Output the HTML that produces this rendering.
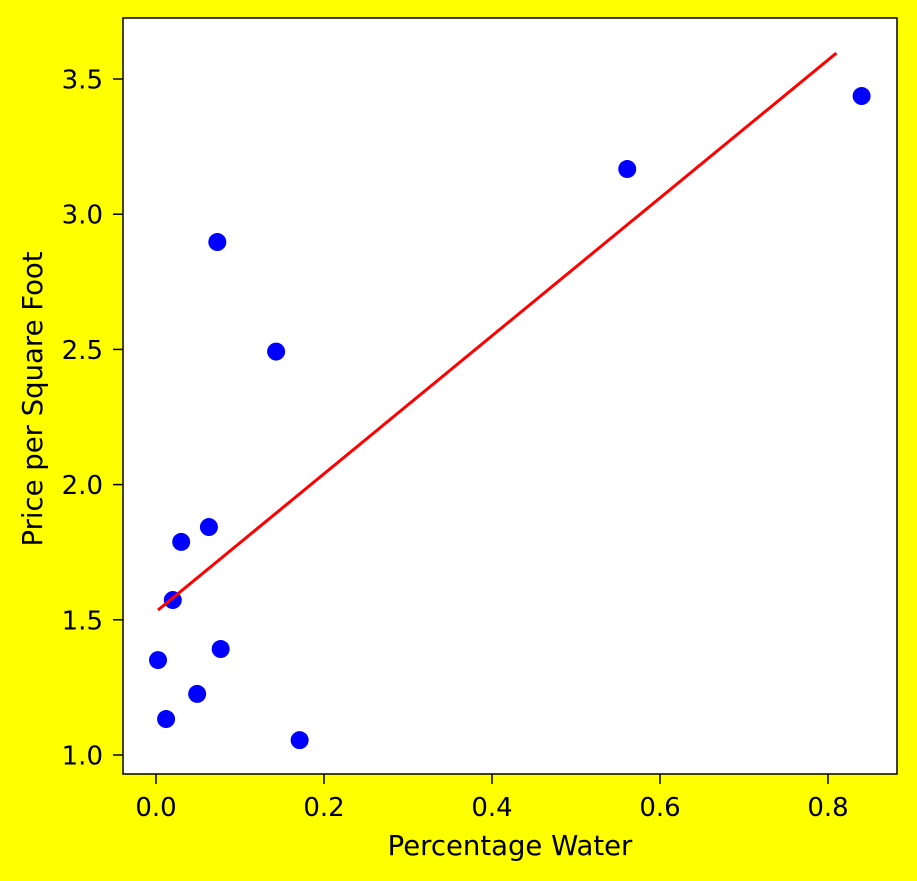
<!DOCTYPE html>
<html><head><meta charset="utf-8"><style>
html,body{margin:0;padding:0;background:#ffff00;}
svg{display:block;font-family:"DejaVu Sans","Liberation Sans",sans-serif;}
</style></head><body>
<svg id="chart" width="917" height="881">
<rect x="0" y="0" width="917" height="881" fill="#ffff00"/>
<rect x="123" y="18" width="774" height="756" fill="#ffffff" stroke="#000" stroke-width="1.5"/>
<g id="xt"></g><g id="yt"></g><g id="marks"></g>
<text x="510" y="855" font-size="27.5" text-anchor="middle">Percentage Water</text>
<text x="0" y="0" font-size="27.5" text-anchor="middle" transform="translate(42,399) rotate(-90)">Price per Square Foot</text>
</svg>
<script>
const xVals=[0.0024,0.012,0.020,0.030,0.049,0.063,0.073,0.077,0.143,0.171,0.561,0.840];
const yVals=[1.351,1.133,1.573,1.788,1.226,1.843,2.897,1.392,2.492,1.055,3.167,3.437];
const lineX=[0.0024,0.81];
const lineY=[1.536,3.596];
const xTicks=[0.0,0.2,0.4,0.6,0.8];
const yTicks=[1.0,1.5,2.0,2.5,3.0,3.5];
const xTickLabels=["0.0","0.2","0.4","0.6","0.8"];
const yTickLabels=["1.0","1.5","2.0","2.5","3.0","3.5"];
const NS="http://www.w3.org/2000/svg";
function sx(v){return 156+v*840;}
function sy(v){return 755-(v-1)*270.4;}
function mk(tag,attrs,parent){const e=document.createElementNS(NS,tag);for(const k in attrs)e.setAttribute(k,attrs[k]);parent.appendChild(e);return e;}
const xt=document.getElementById('xt'),yt=document.getElementById('yt'),m=document.getElementById('marks');
xTicks.forEach((t,i)=>{
  const l=mk('line',{x1:sx(t),x2:sx(t),y1:774,y2:784,stroke:'#000','stroke-width':1.5},xt);
  
  
  const tx=mk('text',{x:sx(t),y:816,'font-size':26,'text-anchor':'middle'},xt);
  tx.textContent=xTickLabels[i];
  
  
});
yTicks.forEach((t,i)=>{
  const l=mk('line',{x1:113,x2:123,y1:sy(t),y2:sy(t),stroke:'#000','stroke-width':1.5},yt);
  
  
  const tx=mk('text',{x:103,y:sy(t)+9.5,'font-size':26,'text-anchor':'end'},yt);
  tx.textContent=yTickLabels[i];
  
  
});
xVals.forEach((x,i)=>{
  const c=mk('circle',{cx:sx(x),cy:sy(yVals[i]),r:9,fill:'#0000ff'},m);
  
  
});
const ln=mk('line',{x1:sx(lineX[0]),y1:sy(lineY[0]),x2:sx(lineX[1]),y2:sy(lineY[1]),stroke:'#ff0000','stroke-width':3},m);


</script>
</body></html>
